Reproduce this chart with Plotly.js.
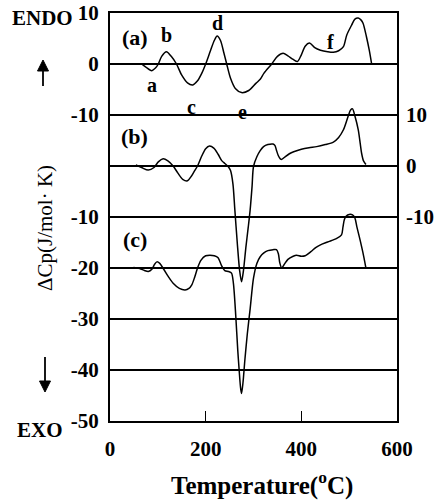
<!DOCTYPE html>
<html>
<head>
<meta charset="utf-8">
<script src="https://cdn.plot.ly/plotly-3.0.1.min.js"></script>
<style>html,body{margin:0;padding:0;background:#fff;}#chart{width:434px;height:501px;}</style>
</head>
<body>
<div id="chart"></div>
<script>
// Curve (a): temperature (°C) and ΔCp (J/mol·K), left upper scale
const tempA = [66,75,87,95,101,108,118,128,139,150,162,173,183,192,200,210,218,224,231,238,244,252,262,275,290,305,314,322,338,350,362,372,383,392,400,408,417,428,440,455,467,478,488,495,505,512,519,525,529,536,542,547];
const cpA   = [0,-0.6,-1.3,-0.8,0,1.5,2.4,1.5,0,-2.2,-3.7,-4.1,-3.3,-1.8,0,2.6,4.6,5.5,4.6,2.2,0,-2.8,-4.8,-5.6,-5.2,-3.8,-3.0,-1.8,0,1.5,2.1,1.6,0.9,0.5,1.8,3.5,4.1,3.2,2.7,2.4,2.3,2.6,3.4,5.7,7.6,8.8,9.0,8.6,8.0,5.4,2.7,0];

// Curve (b): right scale (0 baseline)
const tempB = [54,66,80,92,101,111,121,132,142,152,162,170,177,183,192,200,208,217,226,234,240,247,252,257,261,266,271,275,279,284,289,293,297,300,307,314,321,330,341,345,348,352,356,359,366,375,384,400,416,432,450,467,478,488,497,503,507,512,519,523,526,530,535];
const cpB   = [0.2,-0.3,-0.8,-0.3,0.8,1.4,1.0,0,-1.4,-2.6,-2.9,-2.0,-0.9,0,2.0,3.4,3.9,3.5,2.3,1.0,0.5,-0.1,-0.9,-3.5,-8.6,-15,-20.5,-22.7,-20.5,-16,-12,-8.6,-4,-0.1,1.8,3.0,3.8,4.2,4.3,4.0,3.1,2.0,1.4,1.3,1.8,2.4,2.8,3.3,3.6,3.8,4.2,4.7,5.6,7.1,9.5,11.0,11.2,9.8,7.1,4.5,2.5,1.0,0.3];

// Curve (c): left lower scale (-20 baseline)
const tempC = [49,62,72,80,88,93,98,104,112,122,132,145,157,165,171,177,183,190,200,209,218,226,233,240,248,254,258,263,267,270,273,275,278,282,287,293,300,307,314,321,330,341,348,352,355,359,365,372,383,390,400,408,420,430,439,455,474,484,487,490,494,500,507,512,516,521,526,531,535];
const cpC   = [-19.9,-20.1,-20.5,-20.7,-20.2,-19.3,-18.8,-19.1,-20.2,-21.7,-23.0,-24.0,-24.3,-24.0,-23.3,-21.8,-20,-18.5,-17.6,-17.5,-17.6,-18.0,-19.5,-20.5,-20.7,-21.0,-23,-29.5,-36,-40,-43.5,-44.6,-42.5,-38,-33,-28,-22,-19.1,-17.8,-17.1,-16.6,-16.4,-16.4,-17.2,-19.0,-20,-19.2,-18.3,-17.7,-17.5,-17.7,-17.6,-16.8,-16.0,-15.5,-14.9,-14.2,-13.5,-12,-10.5,-9.8,-9.5,-9.6,-10.2,-11.9,-13.8,-15.8,-18,-20];

// stacking offsets of the three panels on the shared plot axis
const offsetA = 0, offsetB = -20, offsetC = -20;

const leftTickVals  = [10,0,-10,-30,-40,-50,-60,-70];
const leftTickText  = ['10','0','-10','-10','-20','-30','-40','-50'];
const rightTickVals = [-10,-20,-30];
const rightTickText = ['10','0','-10'];
const xTickVals = [0,200,400,600];
const xTickText = ['0','200','400','600'];

const serif = 'Liberation Serif, Times New Roman, serif';
const bold = s => '<b>' + s + '</b>';
const lineStyle = {color:'black', width:1.5, shape:'spline', smoothing:0.8};

const traces = [
  {x: tempA, y: cpA.map(v => v + offsetA), mode:'lines', line: lineStyle, hoverinfo:'skip'},
  {x: tempB, y: cpB.map(v => v + offsetB), mode:'lines', line: lineStyle, hoverinfo:'skip'},
  {x: tempC, y: cpC.map(v => v + offsetC), mode:'lines', line: lineStyle, hoverinfo:'skip'},
  {x:[0], y:[0], yaxis:'y2', mode:'markers', marker:{opacity:0}, hoverinfo:'skip'}
];

function lab(x, y, t, size){
  return {xref:'x', yref:'y', x:x, y:y, xanchor:'center', yanchor:'middle', text:bold(t), showarrow:false,
          font:{family:serif, size:size||20, color:'black'}};
}
// pixel -> paper helpers for decorations outside the plot
const L = 110, T = 13, W = 287, H = 408;
const px = v => (v - L) / W;
const py = v => (T + H - v) / H;

function arrowShapes(xc, tipY, baseY, endY){
  const hw = 5.5;
  return [
    {type:'line', xref:'paper', yref:'paper', x0:px(xc), x1:px(xc), y0:py(baseY), y1:py(endY), line:{color:'black', width:1.8}},
    {type:'path', xref:'paper', yref:'paper',
     path:'M '+px(xc)+','+py(tipY)+' L '+px(xc-hw)+','+py(baseY)+' L '+px(xc+hw)+','+py(baseY)+' Z',
     fillcolor:'black', line:{color:'black', width:1}}
  ];
}

const tickFont = {family:serif, size:21, color:'black'};

const layout = {
  width:434, height:501,
  margin:{l:110, r:37, t:13, b:80},
  paper_bgcolor:'white', plot_bgcolor:'white',
  showlegend:false,
  xaxis:{
    range:[0,600], tickvals:xTickVals, ticktext:xTickText.map(bold), ticks:'inside', ticklen:10, tickwidth:1.5, tickcolor:'black',
    showline:true, mirror:true, linewidth:2, linecolor:'black', showgrid:false, zeroline:false,
    tickfont:tickFont, ticklabelstandoff:8
  },
  yaxis:{
    range:[-70,10], tickvals:leftTickVals, ticktext:leftTickText.map(bold), ticks:'',
    showline:true, mirror:true, linewidth:2, linecolor:'black',
    showgrid:true, gridcolor:'black', gridwidth:1.5, zeroline:false,
    tickfont:tickFont, ticklabelstandoff:5
  },
  yaxis2:{
    overlaying:'y', side:'right', range:[-70,10], tickvals:rightTickVals, ticktext:rightTickText.map(bold),
    ticks:'', showline:false, showgrid:true, gridcolor:'black', gridwidth:1.5, zeroline:false,
    tickfont:tickFont, ticklabelstandoff:8
  },
  shapes: arrowShapes(43, 60, 71, 86).concat(arrowShapes(45, 392, 381, 357)),
  annotations:[
    {xref:'paper', yref:'paper', x:px(42), y:py(18), xanchor:'center', yanchor:'middle', text:bold('ENDO'), showarrow:false,
     font:{family:serif, size:21, color:'black'}},
    {xref:'paper', yref:'paper', x:px(40), y:py(430), xanchor:'center', yanchor:'middle', text:bold('EXO'), showarrow:false,
     font:{family:serif, size:21, color:'black'}},
    {xref:'paper', yref:'paper', x:px(45), y:py(228), xanchor:'center', yanchor:'middle', textangle:-90,
     text:'ΔCp(J/mol· K)', showarrow:false, font:{family:serif, size:21, color:'black'}},
    {xref:'paper', yref:'paper', x:px(262), y:py(484), xanchor:'center', yanchor:'middle',
     text:bold('Temperature(<sup>o</sup>C)'), showarrow:false, font:{family:serif, size:25, color:'black'}},
    lab(52, 5.1, '(a)', 22), lab(119, 5.7, 'b'), lab(224, 8.0, 'd'), lab(88, -4.1, 'a'),
    lab(171, -8.4, 'c'), lab(278, -9.4, 'e'), lab(462, 4.3, 'f'),
    lab(52, -14.3, '(b)', 22), lab(52, -34.5, '(c)', 22)
  ]
};

Plotly.newPlot('chart', traces, layout, {staticPlot:true, displayModeBar:false});
</script>
</body>
</html>
